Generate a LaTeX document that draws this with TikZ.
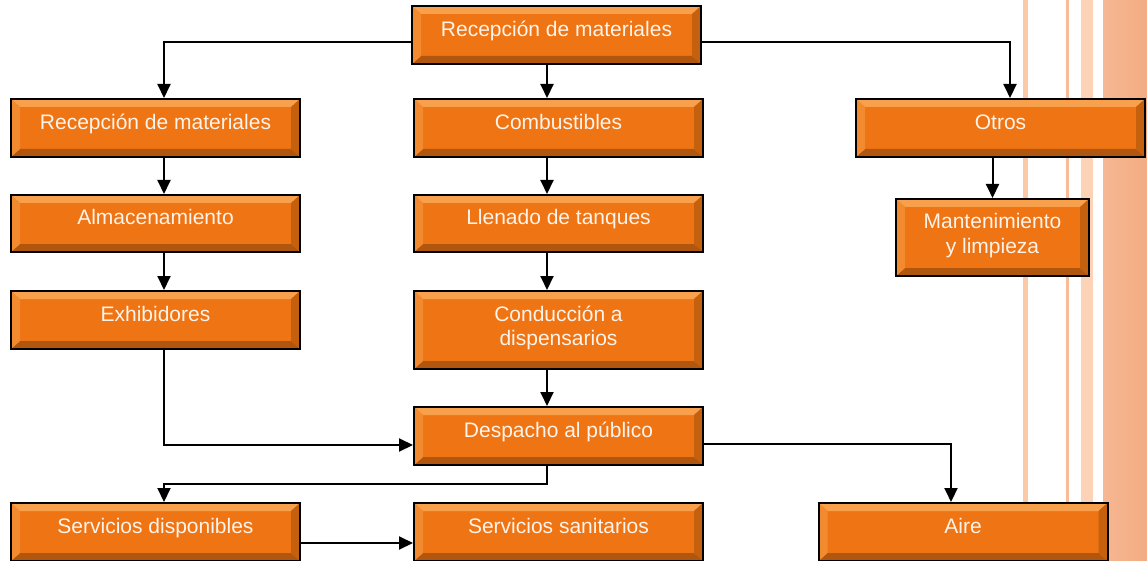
\documentclass[tikz,border=0pt]{standalone}
\usepackage{fontspec}
\setmainfont{Liberation Sans}
\usetikzlibrary{arrows.meta,calc}
\definecolor{boxfill}{HTML}{EF7413}
\definecolor{bevtop}{HTML}{F8A04C}
\definecolor{bevbot}{HTML}{B0560E}
\definecolor{bevleft}{HTML}{F28A30}
\definecolor{bevright}{HTML}{C5600F}
\definecolor{boxtext}{HTML}{FFF3EA}
\definecolor{stripeA}{HTML}{FCC9A7}
\definecolor{stripeB}{HTML}{F9BC96}
\definecolor{stripeC}{HTML}{FDD3B8}
\definecolor{bandL}{HTML}{F6B792}
\definecolor{bandR}{HTML}{F3AC83}
\tikzset{
  box/.style={draw=black, line width=2pt, fill=boxfill, rectangle,
    text=boxtext, font=\fontsize{21}{24.5}\selectfont, align=center,
    inner sep=0pt, minimum width=289pt, minimum height=58pt,
    path picture={
      \fill[bevtop] (path picture bounding box.north west) -- (path picture bounding box.north east)
        -- ([xshift=-9pt,yshift=-8pt]path picture bounding box.north east) -- ([xshift=9pt,yshift=-8pt]path picture bounding box.north west) -- cycle;
      \fill[bevbot] (path picture bounding box.south west) -- (path picture bounding box.south east)
        -- ([xshift=-9pt,yshift=8pt]path picture bounding box.south east) -- ([xshift=9pt,yshift=8pt]path picture bounding box.south west) -- cycle;
      \fill[bevleft] (path picture bounding box.north west) -- ([xshift=9pt,yshift=-8pt]path picture bounding box.north west)
        -- ([xshift=9pt,yshift=8pt]path picture bounding box.south west) -- (path picture bounding box.south west) -- cycle;
      \fill[bevright] (path picture bounding box.north east) -- ([xshift=-9pt,yshift=-8pt]path picture bounding box.north east)
        -- ([xshift=-9pt,yshift=8pt]path picture bounding box.south east) -- (path picture bounding box.south east) -- cycle;
    }},
  boxone/.style={box, text height=15pt, text depth=12pt},
  boxtwo/.style={box, text height=39.5pt, text depth=8.5pt},
  arr/.style={-{Triangle[length=14pt,width=13pt]}, line width=2pt}
}
\begin{document}
\begin{tikzpicture}[x=1pt,y=-1pt]
\useasboundingbox (0,0) rectangle (1147,561);
% background stripes
\fill[stripeA] (1023,0) rectangle (1028,561);
\fill[stripeB] (1066,0) rectangle (1069,561);
\fill[stripeC] (1081,0) rectangle (1093,561);
\shade[left color=bandL, right color=bandR] (1103,0) rectangle (1147,561);

% nodes
\node[boxone] (top) at (556.5,35) {Recepción de materiales};
\node[boxone] (recL) at (155.5,128) {Recepción de materiales};
\node[boxone] (comb) at (558.5,128) {Combustibles};
\node[boxone] (otros) at (1000.5,128) {Otros};
\node[boxone, minimum height=57pt] (alm) at (155.5,223.5) {Almacenamiento};
\node[boxone, minimum height=57pt] (llen) at (558.5,223.5) {Llenado de tanques};
\node[boxtwo, minimum width=193pt, minimum height=77pt] (mant) at (992.5,237.5) {Mantenimiento\\y limpieza};
\node[boxone] (exh) at (155.5,320) {Exhibidores};
\node[boxtwo, minimum height=78pt] (cond) at (558.5,330) {Conducción a\\dispensarios};
\node[boxone] (desp) at (558.5,436) {Despacho al público};
\node[boxone] (sdisp) at (155.5,532) {Servicios disponibles};
\node[boxone] (ssan) at (558.5,532) {Servicios sanitarios};
\node[boxone] (aire) at (963,532) {Aire};

% connectors
\draw[arr] ([yshift=-7pt]top.west) -| ([xshift=8.5pt]recL.north);
\draw[arr] ([yshift=-7pt]top.east) -| ([xshift=9.5pt]otros.north);
\draw[arr] ([xshift=-9.5pt]top.south) -- ([xshift=-11.5pt]comb.north);
\draw[arr] ([xshift=8.5pt]recL.south) -- ([xshift=8.5pt]alm.north);
\draw[arr] ([xshift=8.5pt]alm.south) -- ([xshift=8.5pt]exh.north);
\draw[arr] ([xshift=-11.5pt]comb.south) -- ([xshift=-11.5pt]llen.north);
\draw[arr] ([xshift=-11.5pt]llen.south) -- ([xshift=-11.5pt]cond.north);
\draw[arr] ([xshift=-11.5pt]cond.south) -- ([xshift=-11.5pt]desp.north);
\draw[arr] ([xshift=-8pt]otros.south) -- (mant.north);
\draw[arr] ([xshift=8.5pt]exh.south) |- ([yshift=-9pt]desp.west);
\draw[arr] ([xshift=-11.5pt]desp.south) -- ++(0,18) -| ([xshift=8.5pt]sdisp.north);
\draw[arr] ([yshift=-8pt]desp.east) -| ([xshift=-12pt]aire.north);
\draw[arr] ([yshift=-11pt]sdisp.east) -- ([yshift=-11pt]ssan.west);
\end{tikzpicture}
\end{document}
